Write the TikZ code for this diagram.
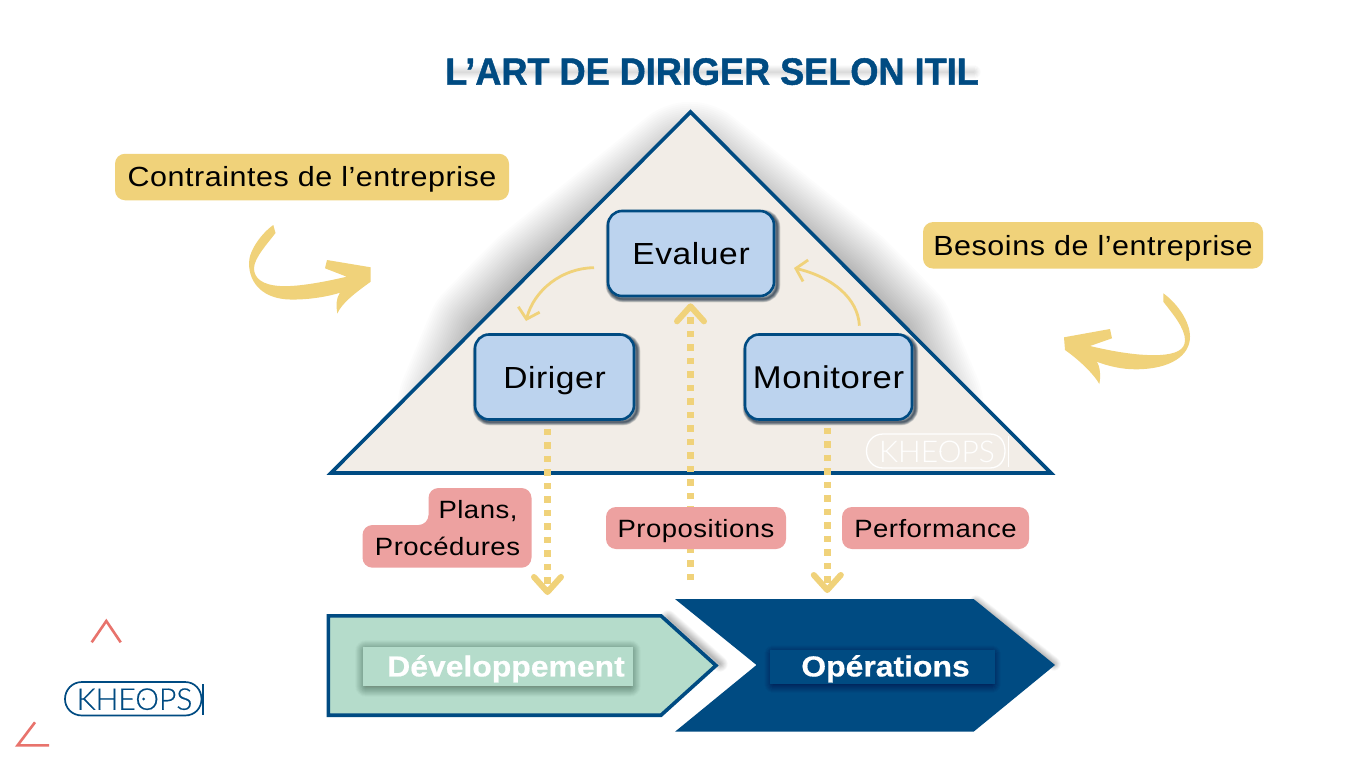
\documentclass[tikz,border=0pt]{standalone}
\usepackage{fontspec}
\usetikzlibrary{arrows.meta,calc}
\setmainfont{Liberation Sans}
\newfontfamily\bodyf[FakeStretch=1.1,LetterSpace=2]{Liberation Sans}
\newfontfamily\titlef[FakeStretch=0.95,FakeBold=1.2]{Liberation Sans Bold}
\newfontfamily\wboldf[FakeStretch=1.1,FakeBold=0.5]{Liberation Sans Bold}
\newfontfamily\logof[UprightFont=* Light]{Lato}
\newfontfamily\logobf[UprightFont=* Light,FakeBold=0.5]{Lato}
\definecolor{navy}{HTML}{004B82}
\definecolor{sand}{HTML}{F2EDE7}
\definecolor{boxblue}{HTML}{BCD3EE}
\definecolor{gold}{HTML}{F0D27A}
\definecolor{rose}{HTML}{EDA1A0}
\definecolor{mint}{HTML}{B5DCCB}
\definecolor{coral}{HTML}{E8736C}
\definecolor{deep}{HTML}{001A33}
% stacked translucent strokes: colour, opacity per layer, max width, path
\newcommand\softpath[4]{\foreach \k in {1,...,36}{%
  \pgfmathsetmacro\wd{\k/36*#3}%
  \draw[draw=#1,opacity=#2,line width=\wd pt,line join=round,line cap=round] #4;}}
\tikzset{
  x=1pt,y=-1pt,
  rolebox/.style={draw=navy,line width=2.6pt,fill=boxblue,rounded corners=14pt,minimum height=85pt,inner sep=0pt,
    font=\bodyf\fontsize{30.5}{34}\selectfont,text=black,text height=22pt,text depth=0pt},
  goldtag/.style={fill=gold,rounded corners=10pt,inner sep=0pt,minimum height=46.5pt,
    font=\bodyf\fontsize{27.7}{32}\selectfont,text=black,text height=19.8pt,text depth=0pt},
  rosetag/.style={fill=rose,rounded corners=10pt,inner sep=0pt,minimum height=42pt,
    font=\bodyf\fontsize{25}{30}\selectfont,text=black,text height=18pt,text depth=0pt},
  rosetext/.style={inner sep=0pt,font=\bodyf\fontsize{25}{30}\selectfont,text=black,text height=18pt,text depth=0pt},
  flowtag/.style={inner sep=0pt,font=\wboldf\fontsize{29}{32}\selectfont,text=white,text height=20.9pt,text depth=0pt},
  curvearrow/.style={draw=gold,line width=2.8pt,-{Straight Barb[length=10pt,width=22pt,line width=2.8pt]}},
  dotarrow/.style={draw=gold,line width=6.8pt,dash pattern=on 6.5pt off 7pt,-{Straight Barb[length=15pt,width=27pt,line width=6pt,round]}},
  logotext/.style={inner sep=0pt,text height=21.6pt,text depth=0pt},
  markline/.style={draw=coral,line width=2.6pt}
}
\begin{document}
\begin{tikzpicture}
\useasboundingbox (0,0) rectangle (1366,768);
\fill[white] (0,0) rectangle (1366,768);

% title glow
\softpath{gray}{0.0015}{26}{(490,96) -- (940,96)}
\softpath{navy}{0.003}{14}{(452,72) -- (974,72)}
\node[inner sep=0pt,text=navy,font=\titlef\fontsize{38}{42}\selectfont,text height=27.4pt,text depth=0pt] (title) at (712,71) {L’ART DE DIRIGER SELON ITIL};

% triangle
\softpath{black}{0.012}{140}{(690,172) -- (544,290) -- (495,340) -- (468,405) -- (913,405) -- (886,340) -- (837,290) -- cycle}
\draw[fill=sand,draw=navy,line width=3.6pt,line join=miter] (690.5,112) -- (331,473) -- (1051,473) -- cycle;

% white watermark
\draw[white,line width=1.3pt] (883,434) -- (990,434) .. controls (1000,434) and (1005,442) .. (1005,451) .. controls (1005,460) and (1000,468) .. (990,468) -- (883,468) .. controls (873,468) and (866.5,460) .. (866.5,451) .. controls (866.5,442) and (873,434) .. (883,434) -- cycle;
\draw[white,line width=1.3pt] (1008.5,436) -- (1008.5,467);
\node[logotext,text=white,font=\logof\fontsize{30}{32}\selectfont] (wm) at (937,451.5) {KHEOPS};
\fill[white] (940.5,451.5) circle (1.2);

% box shadows
\softpath{deep}{0.028}{7}{[rounded corners=14pt] (609,213) -- (777,213) -- (777,299) -- (609,299) -- cycle}
\softpath{deep}{0.028}{7}{[rounded corners=14pt] (476,337) -- (637,337) -- (637,422) -- (476,422) -- cycle}
\softpath{deep}{0.028}{7}{[rounded corners=14pt] (746,337) -- (915,337) -- (915,422) -- (746,422) -- cycle}

% boxes
\node[rolebox,minimum width=166pt] (eval) at (691,253.5) {Evaluer};
\node[rolebox,minimum width=159pt] (dirig) at (554.5,377) {Diriger};
\node[rolebox,minimum width=167pt,font=\bodyf\fontsize{31.5}{34}\selectfont] (monit) at (828.5,377) {Monitorer};

% coordinates for free ends
\coordinate (c1s) at (594,267.7);
\coordinate (c1e) at (526,321);
\coordinate (c2s) at (859.4,325.7);
\coordinate (c2e) at (794,268);
\coordinate (down1) at (547.5,595);
\coordinate (down2) at (827.3,593);
\coordinate (up0) at (690.5,580);

\draw[curvearrow] (c1s) .. controls (562,268) and (534,290) .. (c1e);
\draw[curvearrow] (c2s) .. controls (858,298) and (832,277) .. (c2e);

\draw[dotarrow] ([xshift=-7pt,yshift=-8pt]dirig.south) -- (down1);
\draw[dotarrow] ([xshift=-1.2pt,yshift=-7pt]monit.south) -- (down2);
\draw[dotarrow] (up0) -- ([xshift=-0.5pt,yshift=-6pt]eval.south);

% gold tags
\node[goldtag,minimum width=394pt] (contr) at (312,177) {Contraintes de l’entreprise};
\node[goldtag,minimum width=340pt] (besoin) at (1093,245.3) {Besoins de l’entreprise};

% big hand-drawn arrows
\fill[gold] (273.3,225) .. controls (262,233) and (249,250) .. (249,263) .. controls (249,285) and (265,299) .. (290,299.5) .. controls (310,300) and (330,296) .. (340,292.7) .. controls (336,298) and (336,306) .. (337.3,313.5) .. controls (342,303) and (355,293) .. (370.7,281.7) -- (370.7,267.3) -- (327,260) -- (325,268.3) -- (346.7,276.7) .. controls (320,283) and (295,287) .. (280,286) .. controls (262,285) and (254,278) .. (254,268.3) .. controls (254,258) and (268,243) .. (275.5,233) -- cycle;
\fill[gold] (1163.3,293.3) .. controls (1178,304) and (1190,322) .. (1190,336.7) .. controls (1190,356) and (1170,369) .. (1136.7,369.3) .. controls (1122,369.5) and (1108,366) .. (1096.7,361.7) .. controls (1100,366) and (1101,376) .. (1099.3,384) .. controls (1095,376) and (1082,362) .. (1065,350) -- (1064,337.3) -- (1110,329) -- (1112,338.3) -- (1090,346) .. controls (1115,352) and (1140,356) .. (1160,355) .. controls (1176,354) and (1185,350) .. (1185,340) .. controls (1185,328) and (1172,313) .. (1163.3,301.7) -- cycle;

% rose tags
\fill[rose,rounded corners=10pt] (428.5,488) -- (531.5,488) -- (531.5,567.7) -- (362.5,567.7) -- (362.5,525) -- (428.5,525) -- cycle;
\node[rosetext] (plans) at (478,509) {Plans,};
\node[rosetext] (proc) at (447.5,546) {Procédures};
\node[rosetag,minimum width=180pt] (props) at (696,528) {Propositions};
\node[rosetag,minimum width=187pt] (perf) at (935.5,528) {Performance};

% chevrons
\softpath{black}{0.008}{16}{(668,618) -- (720,664)}
\softpath{black}{0.008}{14}{(976,602) -- (1054,664)}
\draw[fill=mint,draw=navy,line width=3.6pt,line join=miter] (328.4,615.8) -- (661,615.8) -- (716,665.5) -- (661,715.2) -- (328.4,715.2) -- cycle;
\fill[navy] (675,599) -- (973.6,599) -- (1055,665) -- (973.6,731.7) -- (675,731.7) -- (756.5,665) -- cycle;

% chevron labels
\softpath{black}{0.006}{22}{(366,651) -- (630,651) -- (630,686) -- (366,686) -- cycle}
\fill[mint] (363.4,646.7) rectangle (633,686);
\softpath{black}{0.005}{18}{(773,654) -- (992,654) -- (992,684) -- (773,684) -- cycle}
\fill[navy] (769.7,650) rectangle (995,684);
\node[flowtag] (devt) at (506,666) {Développement};
\node[flowtag] (oper) at (885.5,666) {Opérations};

% logo
\draw[markline] (91.7,642.3) -- (106.3,621) -- (120.7,642.3);
\draw[markline] (35,722.3) -- (17.6,745.3) -- (49,745.3);
\draw[navy,line width=1.7pt] (82,682) -- (185,682) .. controls (195,682) and (201.5,690) .. (201.5,699) .. controls (201.5,708) and (195,715.5) .. (185,715.5) -- (82,715.5) .. controls (72,715.5) and (65,708) .. (65,699) .. controls (65,690) and (72,682) .. (82,682) -- cycle;
\draw[navy,line width=1.7pt] (202.8,684) -- (202.8,715);
\node[logotext,text=navy,font=\logobf\fontsize{30}{32}\selectfont] (logo) at (134.5,699) {KHEOPS};
\fill[navy] (143.7,699) circle (1.5);
\end{tikzpicture}
\end{document}
